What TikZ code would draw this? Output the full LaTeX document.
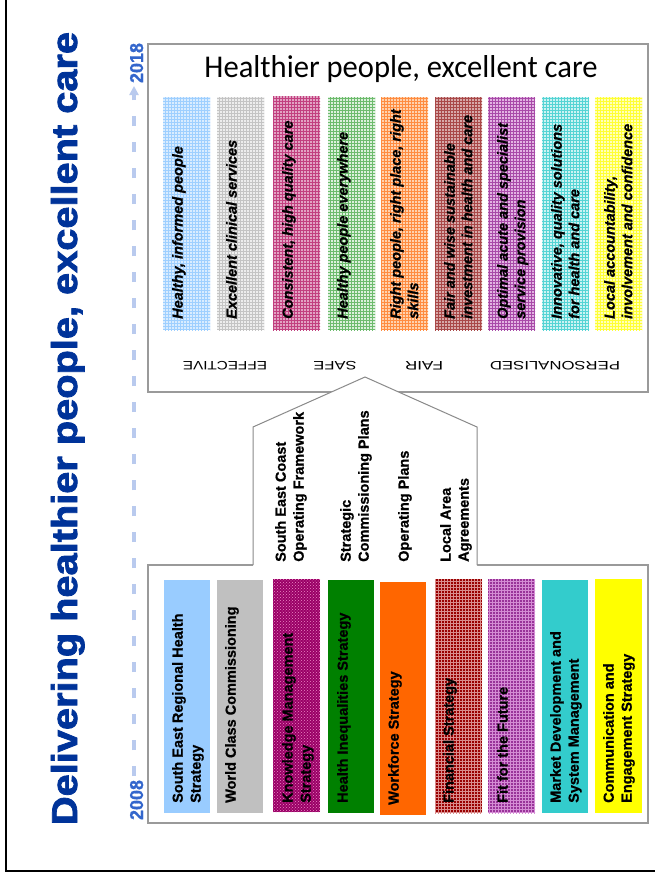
\documentclass[tikz,border=0pt]{standalone}
\usepackage{fontspec}
\setmainfont{Liberation Sans}[BoldFeatures={FakeBold=0.8},BoldItalicFeatures={FakeBold=0.8}]
\newfontfamily\handfont{Carlito}
\newfontfamily\headfont[FakeBold=2]{Liberation Sans Bold}
\usetikzlibrary{patterns,arrows.meta}

% palette
\definecolor{titleblue}{HTML}{003399}
\definecolor{yearblue}{HTML}{3366CC}
\definecolor{axisblue}{HTML}{B9CAEE}
\definecolor{boxgray}{HTML}{9A9A9A}
\definecolor{housegray}{HTML}{8A8A8A}
% aims (pale, textured)
\definecolor{aimAf}{HTML}{D9ECFF}\definecolor{aimAp}{HTML}{9ECFFF}
\definecolor{aimBf}{HTML}{EDEDED}\definecolor{aimBp}{HTML}{C4C4C4}
\definecolor{aimCf}{HTML}{E2A3C3}\definecolor{aimCp}{HTML}{C2407F}
\definecolor{aimDf}{HTML}{DCF0DC}\definecolor{aimDp}{HTML}{6DBB6D}
\definecolor{aimEf}{HTML}{FFD2AE}\definecolor{aimEp}{HTML}{FF8C40}
\definecolor{aimFf}{HTML}{D7A9A9}\definecolor{aimFp}{HTML}{A94848}
\definecolor{aimGf}{HTML}{E2B3E2}\definecolor{aimGp}{HTML}{A84AA8}
\definecolor{aimHf}{HTML}{CCF3F3}\definecolor{aimHp}{HTML}{55D4D4}
\definecolor{aimIf}{HTML}{FFFFB8}\definecolor{aimIp}{HTML}{FFFF33}
% strategies
\definecolor{stA}{HTML}{99CCFF}
\definecolor{stB}{HTML}{C0C0C0}
\definecolor{stC}{HTML}{990066}\definecolor{stCp}{HTML}{EE88C4}
\definecolor{stD}{HTML}{008000}
\definecolor{stE}{HTML}{FF6600}
\definecolor{stF}{HTML}{990000}\definecolor{stFp}{HTML}{D98C8C}
\definecolor{stG}{HTML}{993399}\definecolor{stGp}{HTML}{D48CD4}
\definecolor{stH}{HTML}{33CCCC}
\definecolor{stI}{HTML}{FFFF00}

\newcommand{\stretchword}[2]{\resizebox{#1}{8.5pt}{#2}}

\begin{document}
\begin{tikzpicture}[x=1pt,y=-1pt,
  boxline/.style={draw=boxgray, line width=1.6pt},
  gridstrip/.style 2 args={fill=#1, postaction={pattern=grid, pattern color=#2}},
  dotstrip/.style 2 args={fill=#1, postaction={pattern=crosshatch dots, pattern color=#2}},
  aimtext/.style={rotate=90, anchor=north west, inner sep=0pt, align=left,
    font=\bfseries\itshape\fontsize{14.5}{17.5}\selectfont},
  strattext/.style={rotate=90, anchor=north west, inner sep=0pt, align=left,
    font=\bfseries\fontsize{14.5}{18}\selectfont},
  valuelabel/.style={rotate=180, inner sep=0pt},
  yearlabel/.style={rotate=90, anchor=base, inner sep=0pt, text=yearblue}]

\useasboundingbox (0,0) rectangle (655,878);
\fill[white] (0,0) rectangle (655,878);

% outer frame
\draw[line width=2.2pt] (6,-5) -- (6,871) -- (660,871);

% heading
\node[rotate=90, anchor=base, inner sep=0pt, text=titleblue] (heading) at (77,428.5)
  {\resizebox{793pt}{26pt}{\headfont Delivering healthier people, excellent care}};

% time axis
\node[yearlabel] (y2018) at (143,63) {\resizebox{40pt}{13pt}{\bfseries 2018}};
\node[yearlabel] (y2008) at (143,800) {\resizebox{40pt}{13pt}{\bfseries 2008}};
\coordinate (axisfoot) at (134,776);
\coordinate (axishead) at (134,86);
\draw[axisblue, line width=4pt, dash pattern=on 10pt off 16pt,
  -{Triangle[width=9pt,length=9pt]}] (axisfoot) -- (axishead);

% panels
\draw[boxline] (148,44) rectangle (648,392);
\draw[boxline] (148,565) rectangle (648,823);

% link between the two panels
\fill[white] (253,567) -- (253,427) -- (365,377) -- (477,427) -- (477,567) -- cycle;
\draw[housegray, line width=1pt] (253,565) -- (253,427) -- (365,377) -- (477,427) -- (477,565);

% vision
\node[anchor=base, inner sep=0pt] (vision) at (401,77)
  {\resizebox{393pt}{22pt}{\handfont Healthier people, excellent care}};

% aims
\path[gridstrip={aimAf}{aimAp}] (163,97) rectangle (210,330);
\path[gridstrip={aimBf}{aimBp}] (217,97) rectangle (264,330);
\path[gridstrip={aimCf}{aimCp}] (273,96) rectangle (320,330);
\path[gridstrip={aimDf}{aimDp}] (328,97) rectangle (375,330);
\path[gridstrip={aimEf}{aimEp}] (381,97) rectangle (428,330);
\path[gridstrip={aimFf}{aimFp}] (435,97) rectangle (482,330);
\path[gridstrip={aimGf}{aimGp}] (488,97) rectangle (535,330);
\path[gridstrip={aimHf}{aimHp}] (542,97) rectangle (589,330);
\path[gridstrip={aimIf}{aimIp}] (595,97) rectangle (642,330);

\node[aimtext] (aim1) at (172,319) {Healthy, informed people};
\node[aimtext] (aim2) at (226,319) {Excellent clinical services};
\node[aimtext] (aim3) at (282,319) {Consistent, high quality care};
\node[aimtext] (aim4) at (337,319) {Healthy people everywhere};
\node[aimtext] (aim5) at (390,319) {Right people, right place, right\\skills};
\node[aimtext] (aim6) at (444,319) {Fair and wise sustainable\\investment in health and care};
\node[aimtext] (aim7) at (497,319) {Optimal acute and specialist\\service provision};
\node[aimtext] (aim8) at (551,319) {Innovative, quality solutions\\for health and care};
\node[aimtext] (aim9) at (604,319) {Local accountability,\\involvement and confidence};

% values
\node[valuelabel] (effective) at (225,366) {\stretchword{84pt}{EFFECTIVE}};
\node[valuelabel] (safe) at (335,366) {\stretchword{43pt}{SAFE}};
\node[valuelabel] (fair) at (424,366) {\stretchword{38pt}{FAIR}};
\node[valuelabel] (personalised) at (555,366) {\stretchword{130pt}{PERSONALISED}};

% plans
\node[strattext] (plan1) at (275,562) {South East Coast\\Operating Framework};
\node[strattext] (plan2) at (340,562) {Strategic\\Commissioning Plans};
\node[strattext] (plan3) at (398,562) {Operating Plans};
\node[strattext] (plan4) at (440,562) {Local Area\\Agreements};

% strategies
\fill[stA] (164,580) rectangle (210,813);
\fill[stB] (217,580) rectangle (263,813);
\path[dotstrip={stC}{stCp}] (273,579) rectangle (320,812);
\fill[stD] (328,580) rectangle (374,813);
\fill[stE] (380,582) rectangle (426,815);
\path[gridstrip={stF}{stFp}] (435,579) rectangle (482,813);
\path[gridstrip={stG}{stGp}] (488,579) rectangle (535,813);
\fill[stH] (542,580) rectangle (588,813);
\fill[stI] (595,579) rectangle (642,813);

\node[strattext] (strat1) at (172,803) {South East Regional Health\\Strategy};
\node[strattext] (strat2) at (225,803) {World Class Commissioning};
\node[strattext] (strat3) at (282,803) {Knowledge Management\\Strategy};
\node[strattext] (strat4) at (337,803) {Health Inequalities Strategy};
\node[strattext] (strat5) at (388,805) {Workforce Strategy};
\node[strattext] (strat6) at (443,803) {Financial Strategy};
\node[strattext] (strat7) at (497,803) {Fit for the Future};
\node[strattext] (strat8) at (550,803) {Market Development and\\System Management};
\node[strattext] (strat9) at (603,803) {Communication and\\Engagement Strategy};
\end{tikzpicture}
\end{document}
